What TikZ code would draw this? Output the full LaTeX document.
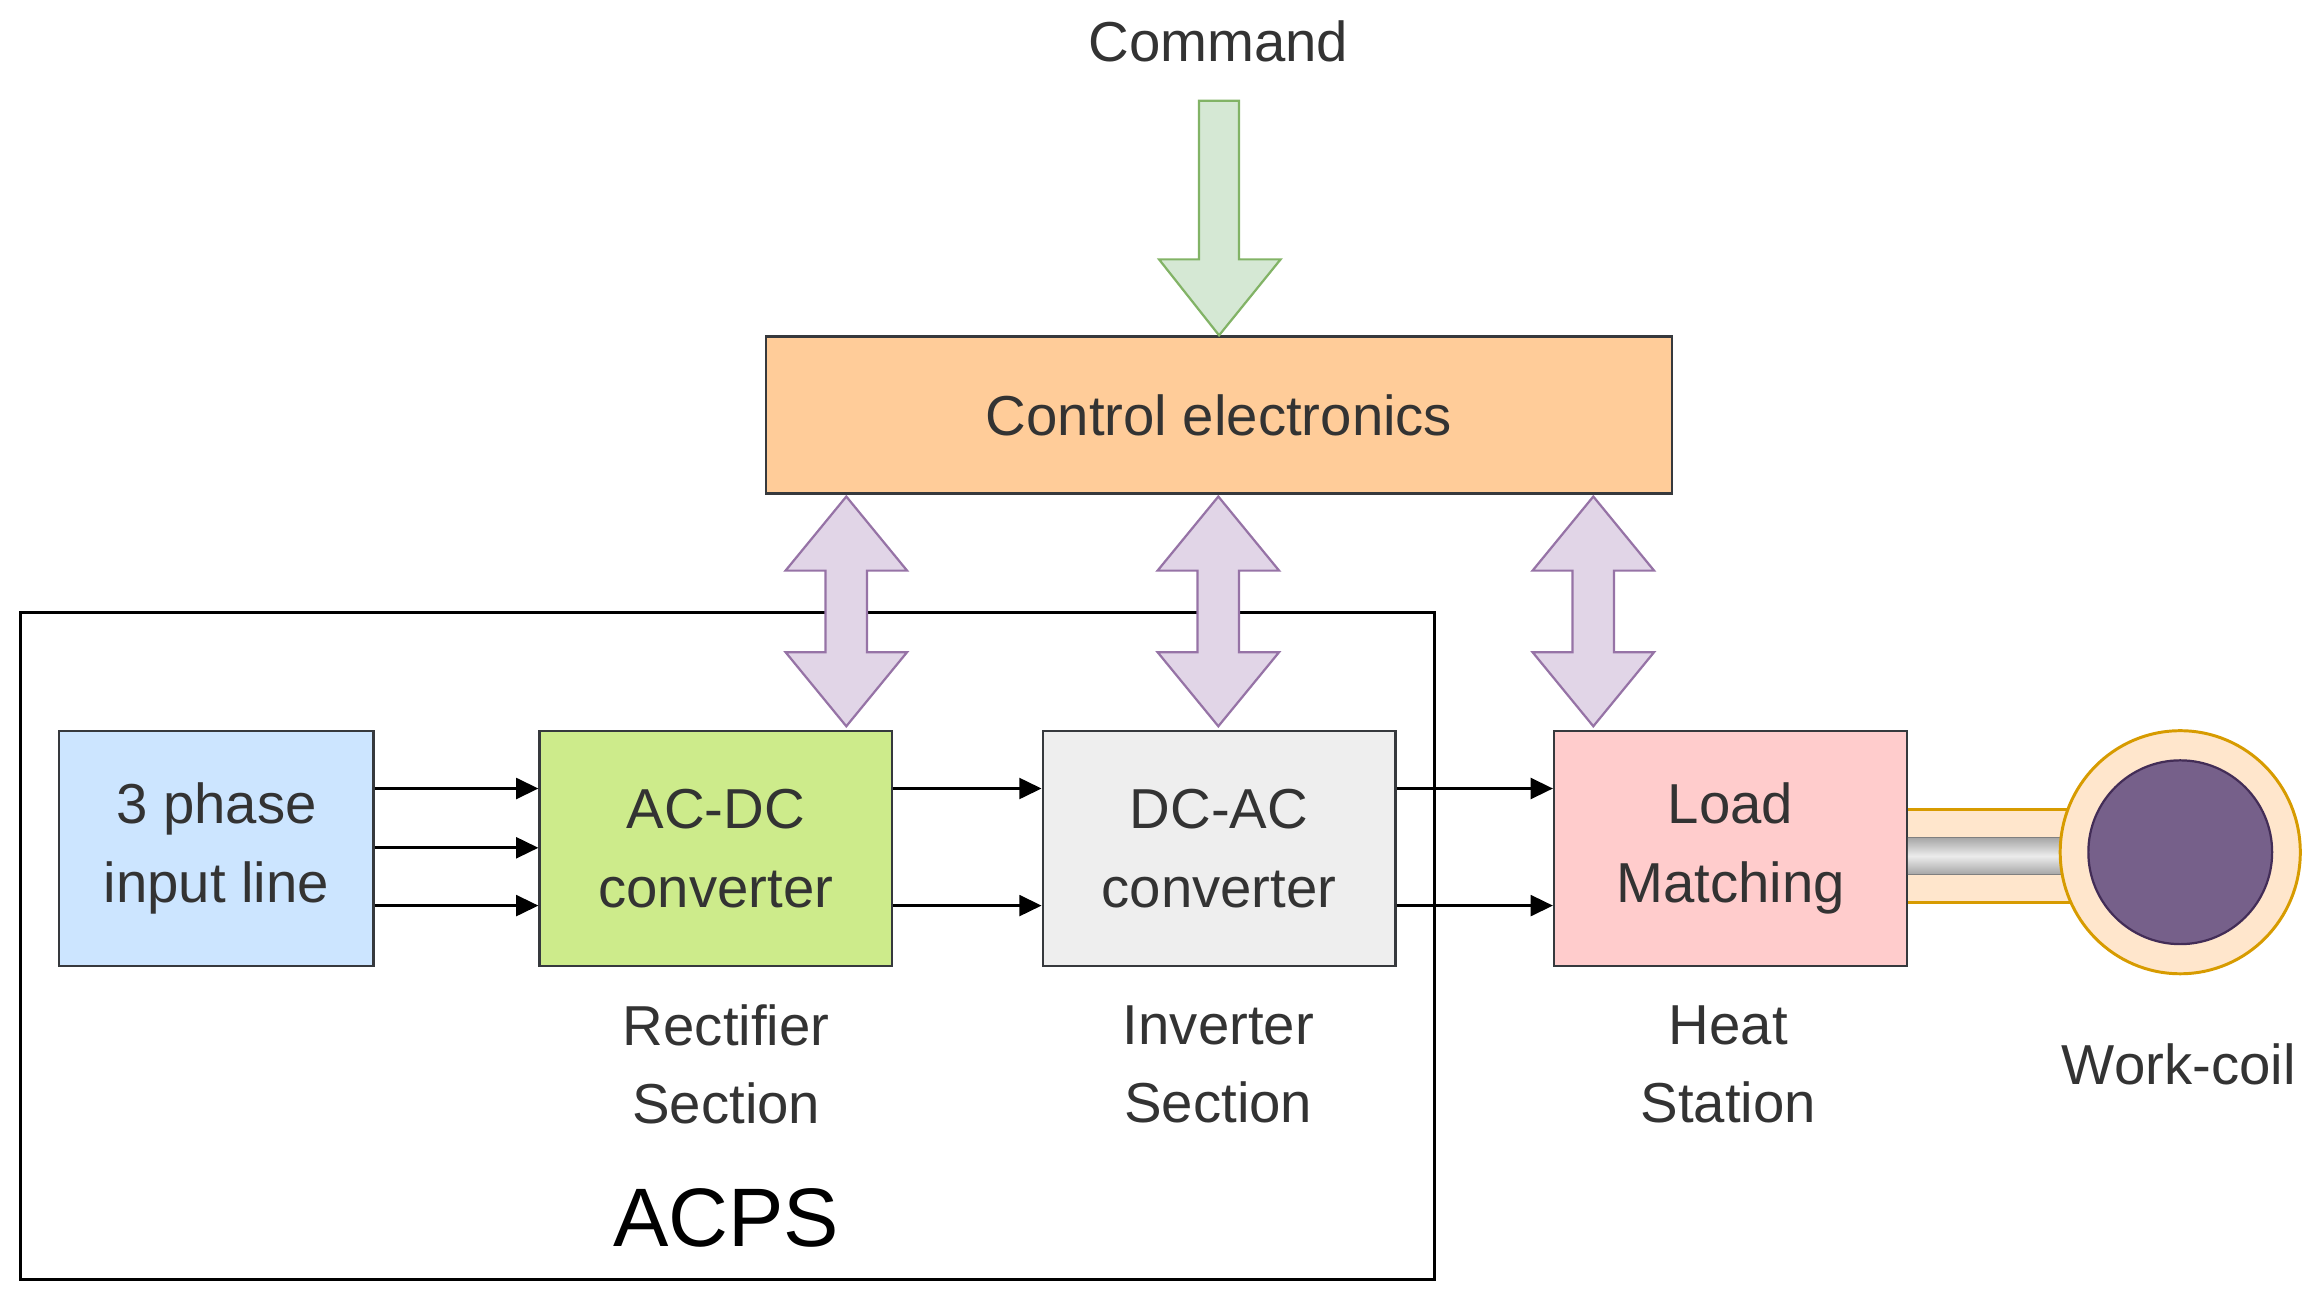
\documentclass[tikz,border=0pt]{standalone}
\usepackage{fontspec}
\setmainfont{Liberation Sans}
\usetikzlibrary{arrows.meta}
\definecolor{edgec}{HTML}{36393D}
\definecolor{cblue}{HTML}{CCE5FF}
\definecolor{cgreen}{HTML}{CDEB8B}
\definecolor{cgray}{HTML}{EEEEEE}
\definecolor{cpink}{HTML}{FFCCCC}
\definecolor{corange}{HTML}{FFCC99}
\definecolor{pfill}{HTML}{E1D5E7}
\definecolor{pline}{HTML}{9673A6}
\definecolor{gfill}{HTML}{D5E8D4}
\definecolor{gline}{HTML}{82B366}
\definecolor{cofill}{HTML}{FFE6CC}
\definecolor{coline}{HTML}{D79B00}
\definecolor{cin}{HTML}{76608A}
\definecolor{cinl}{HTML}{432D57}
\begin{document}
\begin{tikzpicture}[x=1pt,y=-1pt,
  txt/.style={font=\fontsize{38}{53}\selectfont,text=black!80,align=center},
  blk/.style={draw=edgec,line width=1.5pt,minimum width=238pt,minimum height=159pt,inner sep=0pt,txt},
  sig/.style={-{Triangle[length=15pt,width=14pt]},line width=2pt},
  dbl/.style={fill=pfill,draw=pline,line width=1.5pt},
]
\useasboundingbox (0,0) rectangle (1568,880);
\draw[line width=2pt] (14,413) rectangle (968,863);
\node[txt,font=\fontsize{56}{60}\selectfont,text=black] (acps) at (490,822) {ACPS};
\node[blk,fill=corange,minimum width=611pt,minimum height=106pt] (ctrl) at (822.5,280) {Control electronics};
\node[txt] (cmd) at (822,28) {Command};
\node[blk,fill=cblue,minimum width=212pt] (in) at (146,572.5) {3 phase\\input line};
\node[blk,fill=cgreen] (ac) at (483,572.5) {AC-DC\\converter};
\node[blk,fill=cgray] (dc) at (822.5,572.5) {DC-AC\\converter};
\node[blk,fill=cpink] (lm) at (1167.5,572.5) {Load\\Matching};
\node[txt] at (490,718) {Rectifier\\Section};
\node[txt] at (822,718) {Inverter\\Section};
\node[txt] at (1166,718) {Heat\\Station};
\node[txt] (wc) at (1470,718) {Work-coil};
% signal arrows
\foreach \y in {532,572,611}{\draw[sig] (in.east |- 0,\y) -- (ac.west |- 0,\y);}
\foreach \y in {532,611}{\draw[sig] (ac.east |- 0,\y) -- (dc.west |- 0,\y);
  \draw[sig] (dc.east |- 0,\y) -- (lm.west |- 0,\y);}
% command arrow
\draw[fill=gfill,draw=gline,line width=1.5pt] (809,68) -- (836,68) -- (836,175) -- (864,175) -- (ctrl.north) -- (782,175) -- (809,175) -- cycle;
% double arrows
\foreach \x in {571,822,1075}{
 \draw[dbl] (\x,335) -- (\x+41,385) -- (\x+14,385) -- (\x+14,440) -- (\x+41,440) -- (\x,490) -- (\x-41,440) -- (\x-14,440) -- (\x-14,385) -- (\x-41,385) -- cycle;}
% work coil
\fill[cofill] (lm.east |- 0,545) rectangle (1400,610);
\draw[coline,line width=2pt] (lm.east |- 0,546) -- (1400,546) (lm.east |- 0,609) -- (1400,609);
\shade[top color=gray!70,bottom color=gray!70,middle color=white!85!gray] (lm.east |- 0,565) rectangle (1400,590);
\draw[gray,line width=1.2pt] (lm.east |- 0,565) -- (1400,565) (lm.east |- 0,590) -- (1400,590);
\draw[fill=cofill,draw=coline,line width=2pt] (1471,575) ellipse[x radius=81,y radius=82];
\draw[fill=cin,draw=cinl,line width=1.5pt] (1471,575) ellipse[x radius=62,y radius=62];
\end{tikzpicture}
\end{document}
